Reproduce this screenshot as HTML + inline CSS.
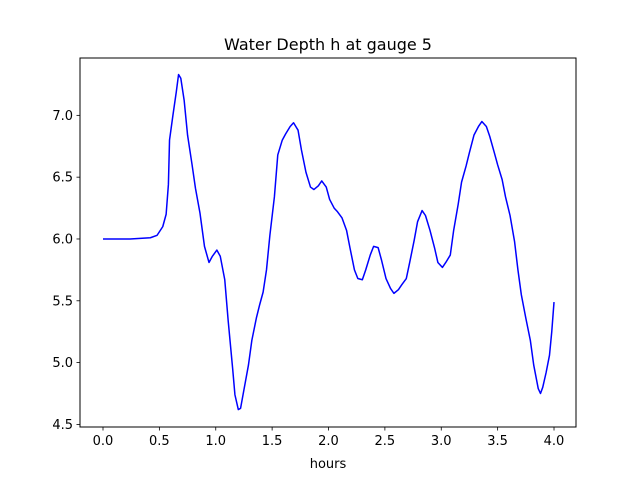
<!DOCTYPE html>
<html><head><meta charset="utf-8"><style>
body{margin:0;background:#fff}
svg text{font-family:"DejaVu Sans","Liberation Sans",sans-serif;fill:#000}
</style></head><body>
<svg width="640" height="480" xmlns="http://www.w3.org/2000/svg">
<rect x="0" y="0" width="640" height="480" fill="#fff"/>
<g id="plot"></g>
<text x="328" y="50" font-size="16" text-anchor="middle">Water Depth h at gauge 5</text>
<text x="328" y="468" font-size="13" text-anchor="middle">hours</text>
</svg>
<script>
const times=[0,0.24,0.42,0.48,0.53,0.56,0.58,0.59,0.62,0.65,0.67,0.69,0.72,0.75,0.79,0.82,0.86,0.90,0.94,0.97,1.01,1.04,1.08,1.11,1.15,1.17,1.20,1.22,1.25,1.29,1.32,1.36,1.39,1.42,1.45,1.48,1.52,1.55,1.59,1.62,1.66,1.69,1.73,1.76,1.80,1.84,1.87,1.91,1.94,1.98,2.01,2.05,2.08,2.12,2.16,2.19,2.23,2.26,2.30,2.33,2.37,2.40,2.44,2.47,2.51,2.55,2.58,2.62,2.65,2.69,2.72,2.76,2.79,2.83,2.86,2.90,2.94,2.97,3.01,3.04,3.08,3.11,3.15,3.18,3.22,3.25,3.29,3.33,3.36,3.40,3.43,3.47,3.50,3.54,3.57,3.61,3.65,3.68,3.71,3.75,3.79,3.82,3.86,3.88,3.90,3.93,3.96,3.98,4.0];
const depth=[6.00,6.00,6.01,6.03,6.10,6.20,6.44,6.80,7.00,7.19,7.33,7.30,7.12,6.84,6.60,6.41,6.21,5.94,5.81,5.86,5.91,5.86,5.67,5.34,4.95,4.74,4.62,4.63,4.78,4.98,5.18,5.36,5.47,5.57,5.75,6.03,6.34,6.68,6.80,6.85,6.91,6.94,6.88,6.72,6.54,6.42,6.40,6.43,6.47,6.42,6.32,6.25,6.22,6.17,6.07,5.93,5.75,5.68,5.67,5.75,5.87,5.94,5.93,5.83,5.68,5.60,5.56,5.59,5.63,5.68,5.81,5.99,6.14,6.23,6.19,6.07,5.93,5.81,5.77,5.81,5.87,6.07,6.28,6.46,6.59,6.70,6.84,6.91,6.95,6.91,6.83,6.70,6.60,6.48,6.34,6.19,5.98,5.75,5.55,5.36,5.18,4.98,4.79,4.75,4.80,4.92,5.06,5.25,5.49];
const xTicks=[0,0.5,1,1.5,2,2.5,3,3.5,4];
const xTickLabels=["0.0","0.5","1.0","1.5","2.0","2.5","3.0","3.5","4.0"];
const yTicks=[4.5,5,5.5,6,6.5,7];
const yTickLabels=["4.5","5.0","5.5","6.0","6.5","7.0"];
const L=80,R=576,T=58,B=427;
const xMin=-0.204,xMax=4.195,yMin=4.479,yMax=7.464;
const sx=v=>L+(v-xMin)/(xMax-xMin)*(R-L);
const sy=v=>B-(v-yMin)/(yMax-yMin)*(B-T);
const NS="http://www.w3.org/2000/svg";
const g=document.getElementById('plot');
function mk(t,a){const e=document.createElementNS(NS,t);for(const k in a)e.setAttribute(k,a[k]);g.appendChild(e);return e;}
let d=times.map((t,i)=>(i?'L':'M')+sx(t).toFixed(2)+','+sy(depth[i]).toFixed(2)).join(' ');
const line=mk('path',{d:d,fill:'none',stroke:'#0000ff','stroke-width':1.5,'stroke-linejoin':'round'});


const frame=mk('rect',{x:L,y:T,width:R-L,height:B-T,fill:'none',stroke:'#000','stroke-width':1});


xTicks.forEach((v,i)=>{
 const x=sx(v);
 const tk=mk('line',{x1:x,x2:x,y1:B,y2:B+3.5,stroke:'#000','stroke-width':0.8});
 
 
 const tx=mk('text',{x:x,y:B+18,'font-size':13,'text-anchor':'middle'});
 tx.textContent=xTickLabels[i];
 
 
});
yTicks.forEach((v,i)=>{
 const y=sy(v);
 const tk=mk('line',{x1:L-3.5,x2:L,y1:y,y2:y,stroke:'#000','stroke-width':0.8});
 
 
 const tx=mk('text',{x:L-7,y:y+4.5,'font-size':13,'text-anchor':'end'});
 tx.textContent=yTickLabels[i];
 
 
});
</script>
</body></html>
